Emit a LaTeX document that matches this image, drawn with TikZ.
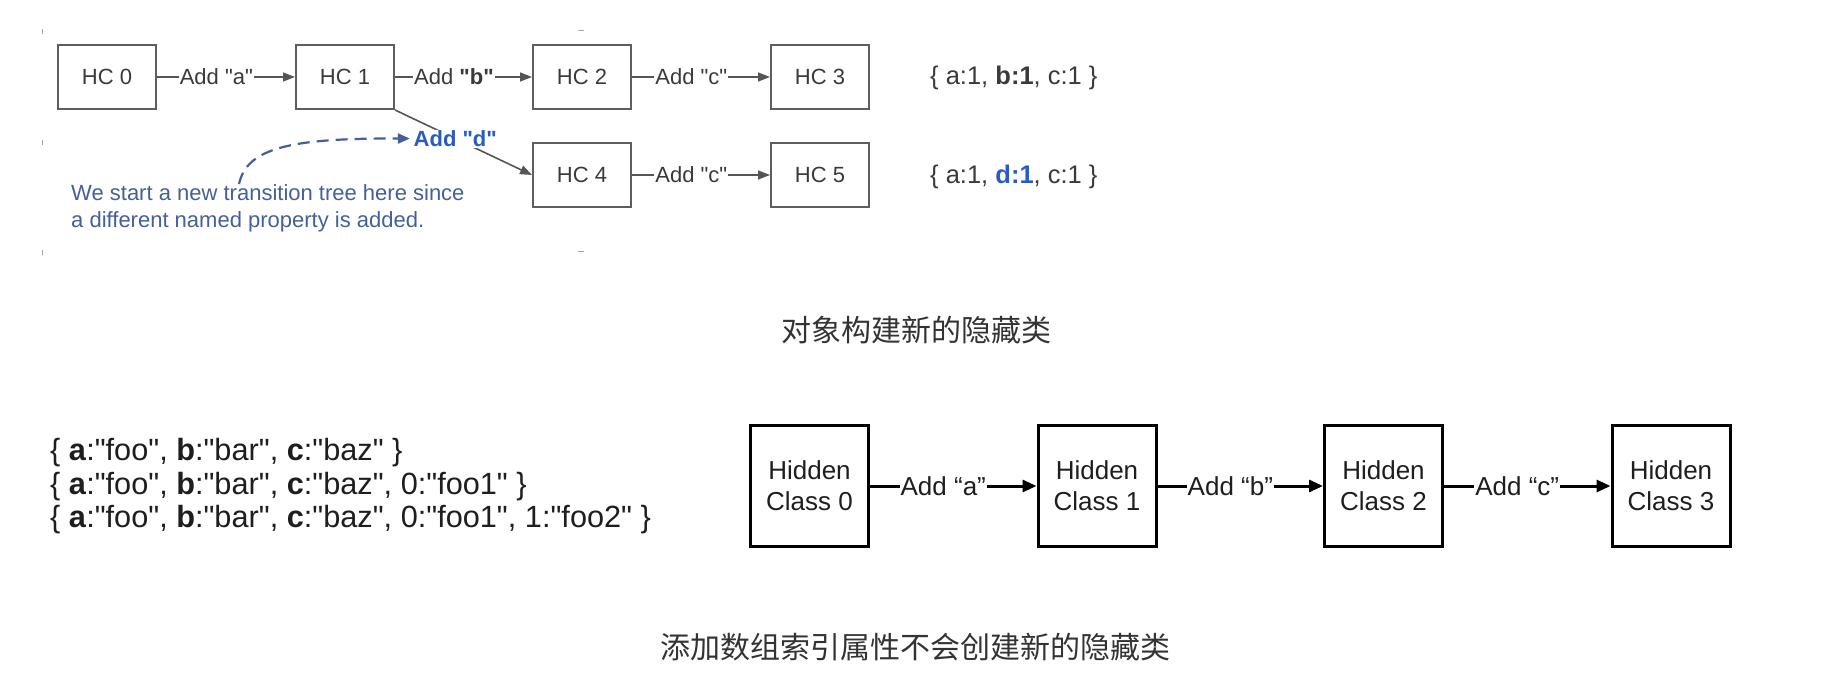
\documentclass[tikz,border=0pt]{standalone}
\usepackage{fontspec}
\setmainfont{Liberation Sans}[Ligatures=TeXOff]
\newfontfamily\cjk{Noto Sans CJK SC}
\usetikzlibrary{arrows.meta}
\definecolor{txtgray}{HTML}{3A3A3A}
\definecolor{boxgray}{HTML}{5E5E5E}
\definecolor{arrgray}{HTML}{555555}
\definecolor{capblue}{HTML}{44609A}
\definecolor{dblue}{HTML}{2A5BC4}
\definecolor{titlegray}{HTML}{333333}
\definecolor{darktxt}{HTML}{1E1E1E}
\tikzset{
  hcbox/.style={draw=boxgray, line width=1.8pt, minimum width=98.2pt, minimum height=64.2pt,
    inner sep=0pt, text=txtgray, font=\fontsize{22}{26}\selectfont},
  hclbl/.style={fill=white, inner sep=1pt, text=txtgray, font=\fontsize{22}{26}\selectfont},
  garrow/.style={draw=arrgray, line width=1.6pt, -{Triangle[length=12pt,width=9pt]}},
  setlbl/.style={anchor=west, inner sep=0pt, text=txtgray, font=\fontsize{25.5}{30}\selectfont},
  caplbl/.style={anchor=north west, align=left, inner sep=0pt, text=capblue,
    font=\fontsize{22}{27}\selectfont},
  dashline/.style={draw=capblue, line width=2.2pt, dash pattern=on 12pt off 7pt,
    -{Triangle[length=12pt,width=10pt]}},
  hidbox/.style={draw=black, line width=3pt, minimum width=118pt, minimum height=120pt,
    inner sep=0pt, align=center, text=darktxt, font=\fontsize{26}{31}\selectfont},
  hidlbl/.style={fill=white, inner sep=1pt, text=darktxt, font=\fontsize{26}{31}\selectfont},
  barrow/.style={draw=black, line width=3pt, -{Triangle[length=14pt,width=12pt]}},
  objlbl/.style={anchor=west, inner sep=0pt, text=darktxt, font=\fontsize{30.7}{36}\selectfont},
  titlelbl/.style={text=titlegray, font=\cjk\fontsize{30}{36}\selectfont},
  tickmark/.style={draw=gray!70, line width=1pt}
}
\begin{document}
\begin{tikzpicture}[x=1pt,y=-1pt]
\useasboundingbox (0,0) rectangle (1824,692);
% faint crop ticks
\draw[tickmark] (42,29) -- (42,34);
\draw[tickmark] (42,140) -- (42,145);
\draw[tickmark] (42,250) -- (42,255);
\draw[tickmark] (578,31) -- (584,31);
\draw[tickmark] (578,252) -- (584,252);
% top diagram
\node[hcbox] (hc0) at (107,77) {HC 0};
\node[hcbox] (hc1) at (345,77) {HC 1};
\node[hcbox] (hc2) at (582,77) {HC 2};
\node[hcbox] (hc3) at (820,77) {HC 3};
\node[hcbox] (hc4) at (582,175) {HC 4};
\node[hcbox] (hc5) at (820,175) {HC 5};
\draw[garrow] (hc0) -- node[hclbl,pos=0.43] (la) {Add "a"} (hc1);
\draw[garrow] (hc1) -- node[hclbl,pos=0.43] (lb) {Add \textbf{"b"}} (hc2);
\draw[garrow] (hc2) -- node[hclbl,pos=0.43] (lc) {Add "c"} (hc3);
\draw[garrow] (hc4) -- node[hclbl,pos=0.43] (lc2) {Add "c"} (hc5);
\draw[garrow] (hc1.south east) -- node[hclbl,pos=0.44,text=dblue,font=\bfseries\fontsize{22}{26}\selectfont] (ld) {Add "d"} (hc4.west);
\node[setlbl] (set1) at (930,78) {\{ a:1, \textbf{b:1}, c:1 \}};
\node[setlbl] (set2) at (930,177) {\{ a:1, \textcolor{dblue}{\textbf{d:1}}, c:1 \}};
\node[caplbl] (cap) at (71,184) {We start a new transition tree here since\\a different named property is added.};
\coordinate (dstart) at (239,184);
\draw[dashline] (dstart) .. controls (247,148) and (290,138) .. ([xshift=-2pt]ld.west);
\node[titlelbl] (title1) at (916,330) {对象构建新的隐藏类};
% bottom diagram
\node[objlbl] (obj1) at (50,453) {\{ \textbf{a}:"foo", \textbf{b}:"bar", \textbf{c}:"baz" \}};
\node[objlbl] (obj2) at (50,486.5) {\{ \textbf{a}:"foo", \textbf{b}:"bar", \textbf{c}:"baz", 0:"foo1" \}};
\node[objlbl] (obj3) at (50,520) {\{ \textbf{a}:"foo", \textbf{b}:"bar", \textbf{c}:"baz", 0:"foo1", 1:"foo2" \}};
\node[hidbox] (h0) at (809.5,486) {Hidden\\Class 0};
\node[hidbox] (h1) at (1097,486) {Hidden\\Class 1};
\node[hidbox] (h2) at (1383.5,486) {Hidden\\Class 2};
\node[hidbox] (h3) at (1671,486) {Hidden\\Class 3};
\draw[barrow] (h0) -- node[hidlbl,pos=0.44] (ba) {Add “a”} (h1);
\draw[barrow] (h1) -- node[hidlbl,pos=0.44] (bb) {Add “b”} (h2);
\draw[barrow] (h2) -- node[hidlbl,pos=0.44] (bc) {Add “c”} (h3);
\node[titlelbl] (title2) at (915,647) {添加数组索引属性不会创建新的隐藏类};
\end{tikzpicture}
\end{document}
